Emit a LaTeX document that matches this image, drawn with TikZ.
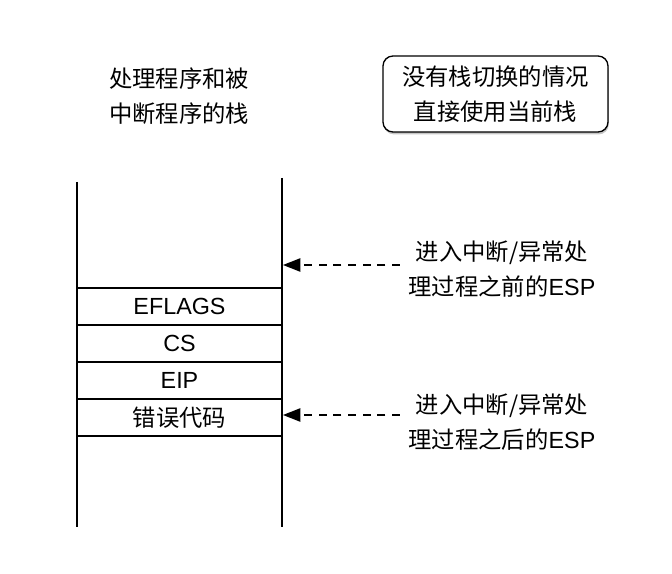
\documentclass[tikz,border=0pt]{standalone}
\usepackage{fontspec}
\setmainfont{Liberation Sans}
\newfontfamily\cjk{Noto Sans CJK SC}
\usetikzlibrary{arrows.meta,shadows}

\tikzset{
  cell/.style={draw, line width=1pt, minimum width=153.75pt, minimum height=27.75pt, inner sep=0pt},
  wall/.style={line width=1pt},
  esp/.style={dashed, dash pattern=on 6pt off 5pt, line width=1pt, -{Triangle[length=13pt,width=10pt]}},
  note/.style={draw, line width=1pt, rounded corners=7.5pt, fill=white,
    minimum width=168.75pt, minimum height=57pt, align=center,
    drop shadow={shadow xshift=0.6pt, shadow yshift=-1.8pt, opacity=0.45}},
}

\begin{document}
\begin{tikzpicture}[x=0.75pt, y=-0.75pt, font=\fontsize{17.5}{26.5}\selectfont]
  \useasboundingbox (0,0) rectangle (672,574);

  % Stack walls
  \coordinate (TL) at (77,182);
  \coordinate (BL) at (77,527);
  \coordinate (TR) at (282,178);
  \coordinate (BR) at (282,527);
  \draw[wall] (TL) -- (BL);
  \draw[wall] (TR) -- (BR);

  % Titles
  \node[align=center] (stack) at (179,96) {\cjk 处理程序和被\\\cjk 中断程序的栈};
  \node[note] (same) at (495.5,94) {\cjk 没有栈切换的情况\\\cjk 直接使用当前栈};

  % Stack cells
  \node[cell] (eflags) at (179.5,306.5) {EFLAGS};
  \node[cell] (cs) at (179.5,343.5) {CS};
  \node[cell] (eip) at (179.5,380.5) {EIP};
  \node[cell] (errcode) at (179.5,417.5) {\cjk 错误代码};

  % ESP before and after
  \coordinate (tipA) at (283,265);
  \coordinate (tipB) at (283,415);
  \node[align=center] (before) at (502,269) {{\cjk 进入中断/异常处}\\{\cjk 理过程之前的}ESP};
  \node[align=center] (after) at (502,422) {{\cjk 进入中断/异常处}\\{\cjk 理过程之后的}ESP};
  \draw[esp] ([xshift=-3pt]before.west |- tipA) -- (tipA);
  \draw[esp] ([xshift=-3pt]after.west |- tipB) -- (tipB);
\end{tikzpicture}
\end{document}
